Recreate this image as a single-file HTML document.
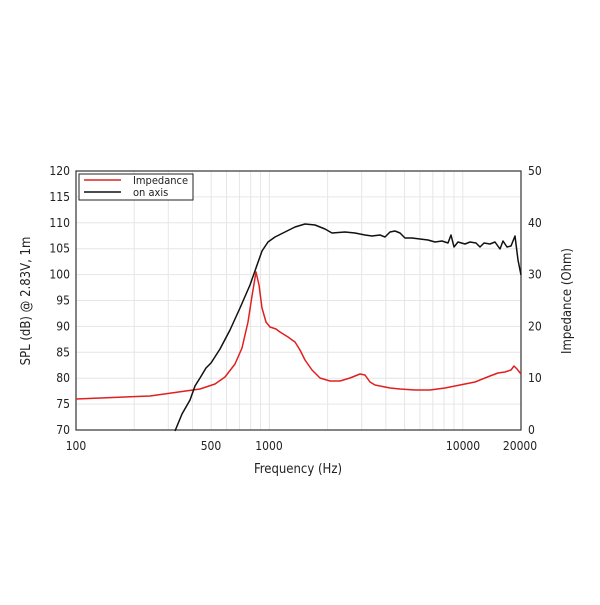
<!DOCTYPE html>
<html><head><style>
body{margin:0;background:#fff;width:600px;height:600px;overflow:hidden}
text{font-family:"DejaVu Sans Condensed","DejaVu Sans","Liberation Sans",sans-serif;fill:#222}
</style></head><body>
<svg width="600" height="600" viewBox="0 0 600 600" xmlns="http://www.w3.org/2000/svg">
<g id="grid" stroke="#e6e6e6" stroke-width="1"></g>
<rect x="76" y="171" width="445" height="259" fill="none" stroke="#333" stroke-width="1.2"/>
<g font-size="12" text-anchor="end" id="yl"></g>
<g font-size="12" text-anchor="start" id="yr"></g>
<g font-size="12" text-anchor="middle">
<text x="76" y="450">100</text><text x="211" y="450">500</text><text x="269" y="450">1000</text><text x="463" y="450">10000</text><text x="520" y="450">20000</text>
</g>
<text x="298" y="473" font-size="13" text-anchor="middle">Frequency (Hz)</text>
<text transform="translate(30,301) rotate(-90)" font-size="13" text-anchor="middle">SPL (dB) @ 2.83V, 1m</text>
<text transform="translate(571,301) rotate(-90)" font-size="13" text-anchor="middle">Impedance (Ohm)</text>
<path fill="none" stroke="#e02020" stroke-width="1.5" stroke-linejoin="round" d="M76,399 L150,396 L200,389 L215,384 L225,377 L235,364 L242,348 L248,322 L252,296 L256,272 L259,285 L262,308 L266,322 L270,327 L276,329 L280,332 L288,337 L295,342 L300,350 L305,360 L312,370 L320,378 L330,381 L340,381 L350,378 L360,374 L365,375 L370,382 L375,385 L390,388 L400,389 L415,390 L430,390 L445,388 L460,385 L475,382 L490,376 L498,373 L505,372 L511,370 L514,366 L517,369 L521,374"/>
<path fill="none" stroke="#111" stroke-width="1.5" stroke-linejoin="round" d="M175,431 L182,414 L190,400 L195,386 L200,378 L206,368 L211,363 L220,349 L230,330 L240,308 L250,285 L256,268 L262,251 L268,242 L275,237 L285,232 L295,227 L305,224 L315,225 L325,229 L332,233 L345,232 L355,233 L365,235 L372,236 L380,235 L385,237 L390,232 L395,231 L400,233 L405,238 L412,238 L420,239 L428,240 L435,242 L442,241 L448,243 L451,235 L454,247 L458,242 L465,244 L470,242 L476,243 L480,247 L484,243 L490,244 L495,242 L500,249 L503,241 L507,247 L511,246 L515,236 L518,260 L521,275"/>
<rect x="79" y="174" width="114" height="26" fill="#fff" stroke="#222" stroke-width="1"/>
<line x1="84" y1="180" x2="121" y2="180" stroke="#e02020" stroke-width="1.5"/>
<line x1="84" y1="192" x2="121" y2="192" stroke="#111" stroke-width="1.5"/>
<text x="133" y="184" font-size="11">Impedance</text>
<text x="133" y="196" font-size="11">on axis</text>
<script>
var g=document.getElementById('grid'),ns='http://www.w3.org/2000/svg';
function X(f){return 76+193.4*Math.log10(f/100);}
function ln(a,b,c,d){var l=document.createElementNS(ns,'line');l.setAttribute('x1',a);l.setAttribute('y1',b);l.setAttribute('x2',c);l.setAttribute('y2',d);g.appendChild(l);}
[200,300,400,500,600,700,800,900,1000,2000,3000,4000,5000,6000,7000,8000,9000,10000].forEach(function(f){ln(X(f),171,X(f),430);});
for(var i=1;i<10;i++){var y=171+i*25.9;ln(76,y,521,y);}
var yl=document.getElementById('yl'),yr=document.getElementById('yr');
for(var i=0;i<=10;i++){var y=430-i*25.9+4;var t=document.createElementNS(ns,'text');t.setAttribute('x',70);t.setAttribute('y',y);t.textContent=70+5*i;yl.appendChild(t);
if(i%2==0){var u=document.createElementNS(ns,'text');u.setAttribute('x',528);u.setAttribute('y',y);u.textContent=5*i;yr.appendChild(u);}}
</script>
</svg>
</body></html>
